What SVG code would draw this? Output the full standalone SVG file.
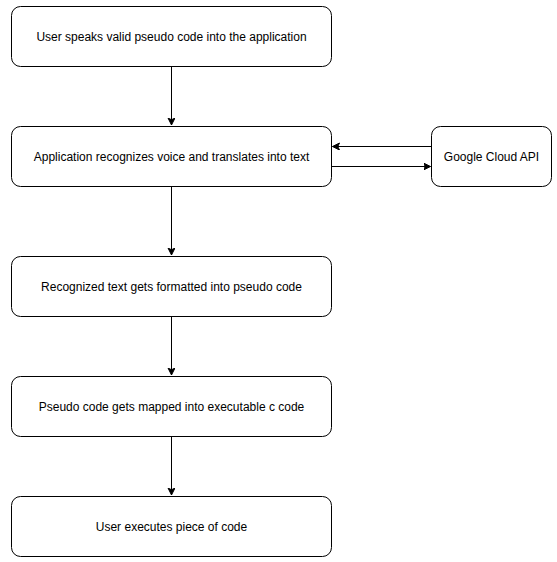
<svg xmlns="http://www.w3.org/2000/svg" width="557" height="562" viewBox="0 0 557 562">
<defs>
<marker id="arr" markerWidth="10" markerHeight="10" refX="7" refY="3.5" orient="auto" markerUnits="userSpaceOnUse">
<path d="M0,0 L7,3.5 L0,7 L1.75,3.5 Z" fill="#000" stroke="#000" stroke-width="1"/>
</marker>
</defs>
<style>
.box{fill:#fff;stroke:#000;stroke-width:1}
.lbl{font-family:"Liberation Sans",Arial,sans-serif;font-size:12px;fill:#000;text-anchor:middle;dominant-baseline:central}
.edge{stroke:#000;stroke-width:1;fill:none;marker-end:url(#arr)}
</style>
<rect x="0" y="0" width="557" height="562" fill="#fff"/>
<g id="connectors">
<line class="edge" x1="171.5" y1="66.5" x2="171.5" y2="125"/>
<line class="edge" x1="171.5" y1="186.5" x2="171.5" y2="255"/>
<line class="edge" x1="171.5" y1="316.5" x2="171.5" y2="375"/>
<line class="edge" x1="171.5" y1="436.5" x2="171.5" y2="495"/>
<line class="edge" x1="431.5" y1="146.5" x2="332.5" y2="146.5"/>
<line class="edge" x1="331.5" y1="166.5" x2="430.5" y2="166.5"/>
</g>
<g id="node1">
<rect class="box" x="11.5" y="6.5" width="320" height="60" rx="9" ry="9"/>
<text class="lbl" x="171.5" y="36.5">User speaks valid pseudo code into the application</text>
</g>
<g id="node2">
<rect class="box" x="11.5" y="126.5" width="320" height="60" rx="9" ry="9"/>
<text class="lbl" x="171.5" y="156.5">Application recognizes voice and translates into text</text>
</g>
<g id="node3">
<rect class="box" x="11.5" y="256.5" width="320" height="60" rx="9" ry="9"/>
<text class="lbl" x="171.5" y="286.5">Recognized text gets formatted into pseudo code</text>
</g>
<g id="node4">
<rect class="box" x="11.5" y="376.5" width="320" height="60" rx="9" ry="9"/>
<text class="lbl" x="171.5" y="406.5">Pseudo code gets mapped into executable c code</text>
</g>
<g id="node5">
<rect class="box" x="11.5" y="496.5" width="320" height="60" rx="9" ry="9"/>
<text class="lbl" x="171.5" y="526.5">User executes piece of code</text>
</g>
<g id="google">
<rect class="box" x="431.5" y="126.5" width="120" height="60" rx="9" ry="9"/>
<text class="lbl" x="491.5" y="156.5">Google Cloud API</text>
</g>
</svg>
